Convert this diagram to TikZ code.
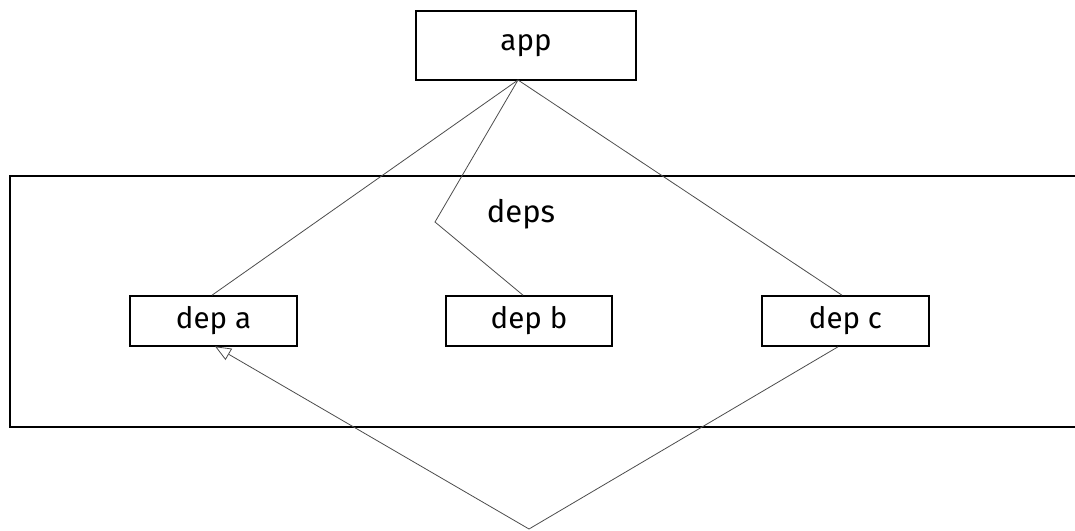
\documentclass[tikz,border=0pt]{standalone}
\usepackage{fontspec}
\setmainfont{Fira Sans}
\usetikzlibrary{arrows.meta}
\begin{document}
\begin{tikzpicture}[x=1pt,y=-1pt,
  box/.style={draw=black,line width=1.6pt,fill=white,inner sep=0pt,font=\fontsize{29.5}{31}\selectfont},
  link/.style={draw=black!70,line width=0.8pt},
  lbl/.style={inner sep=0pt,font=\fontsize{31}{33}\selectfont}]
\useasboundingbox (0,0) rectangle (1075,530);
\begin{scope}
\clip (0,0) rectangle (1075,530);
\node[draw=black,line width=1.8pt,minimum width=1090pt,minimum height=251pt,inner sep=0pt,anchor=north west] (deps) at (9,175) {};
\end{scope}
\node[lbl] (depslbl) at (521,214) {deps};
\node[box,minimum width=220pt,minimum height=69pt] (app) at (526,45.5) {app};
\node[box,minimum width=167pt,minimum height=50pt] (depa) at (213.5,321) {dep a};
\node[box,minimum width=166pt,minimum height=50pt] (depb) at (529,321) {dep b};
\node[box,minimum width=167pt,minimum height=50pt] (depc) at (845.5,321) {dep c};
\coordinate (top) at (518,80);
\coordinate (bend) at (435,222);
\coordinate (bottom) at (529,529);
\draw[link] (top) -- ([xshift=-1.5pt]depa.north);
\draw[link] (top) -- (bend) -- ([xshift=-6pt]depb.north);
\draw[link] (top) -- ([xshift=-3.5pt]depc.north);
\draw[link,-{Triangle[open,length=16pt,width=13pt,fill=white]}] ([xshift=-7.5pt]depc.south) -- (bottom) -- ([xshift=1.5pt,yshift=0.5pt]depa.south);
\end{tikzpicture}
\end{document}
